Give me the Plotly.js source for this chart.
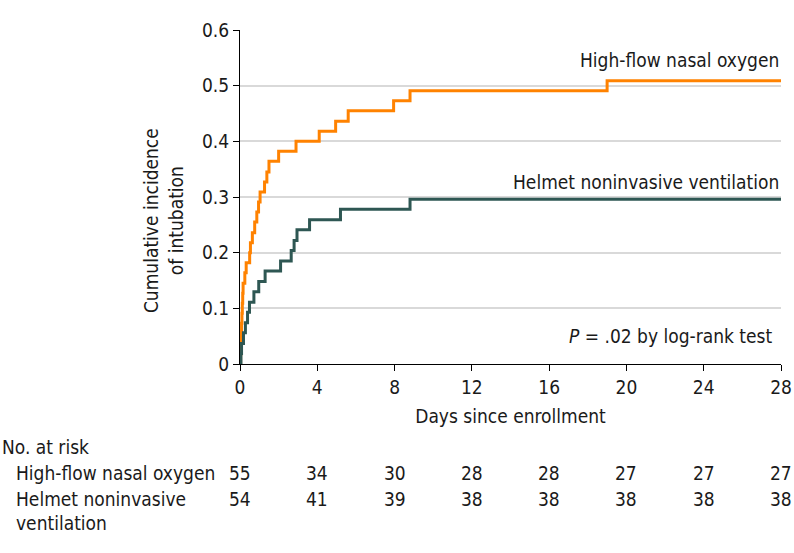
<!DOCTYPE html>
<html>
<head>
<meta charset="utf-8">
<script src="https://cdn.plot.ly/plotly-3.0.1.min.js"></script>
<style>
  html, body { margin: 0; padding: 0; background: #fff; }
  #chart { width: 794px; height: 553px; }
</style>
</head>
<body>
<div id="chart"></div>
<script>
// step curves (day, cumulative incidence)
const hfnoDays = [0, 0.03, 0.05, 0.07, 0.08, 0.10, 0.12, 0.14, 0.16, 0.25, 0.32, 0.50, 0.54,
  0.64, 0.76, 0.87, 0.96, 1.04, 1.27, 1.39, 1.50, 2.0, 2.9, 4.1, 4.95, 5.6, 7.95, 8.8, 19.0, 28];
const hfnoInc = [0, 0.018, 0.036, 0.055, 0.073, 0.091, 0.109, 0.127, 0.145, 0.164, 0.182, 0.200, 0.218,
  0.236, 0.255, 0.273, 0.291, 0.309, 0.327, 0.345, 0.364, 0.382, 0.400, 0.418, 0.436, 0.455, 0.473, 0.491, 0.509, 0.509];

const helmetDays = [0, 0.05, 0.08, 0.18, 0.28, 0.39, 0.49, 0.72, 0.97, 1.3, 2.1, 2.65, 2.8, 2.95, 3.6, 5.2, 8.8, 28];
const helmetInc = [0, 0.019, 0.037, 0.056, 0.074, 0.093, 0.111, 0.130, 0.148, 0.167, 0.185, 0.204, 0.222,
  0.241, 0.259, 0.278, 0.296, 0.296];

// number at risk table
const riskDays = [0, 4, 8, 12, 16, 20, 24, 28];
const hfnoRisk = [55, 34, 30, 28, 28, 27, 27, 27];
const helmetRisk = [54, 41, 39, 38, 38, 38, 38, 38];

const FONT = '"DejaVu Sans Condensed", "Liberation Sans Narrow", sans-serif';
const FS = 19;
const ORANGE = '#ff8200';
const TEAL = '#2e5753';

const traces = [
  {
    x: hfnoDays, y: hfnoInc,
    type: 'scatter', mode: 'lines',
    line: { shape: 'hv', color: ORANGE, width: 3 },
    name: 'High-flow nasal oxygen',
    cliponaxis: false
  },
  {
    x: helmetDays, y: helmetInc,
    type: 'scatter', mode: 'lines',
    line: { shape: 'hv', color: TEAL, width: 3 },
    name: 'Helmet noninvasive ventilation',
    cliponaxis: false
  }
];

const annotations = [
  { text: 'High-flow nasal oxygen', xref: 'paper', yref: 'paper', x: 1.0, y: 0.91,
    xanchor: 'right', yanchor: 'middle', showarrow: false },
  { text: 'Helmet noninvasive ventilation', xref: 'paper', yref: 'paper', x: 1.0, y: 0.545,
    xanchor: 'right', yanchor: 'middle', showarrow: false },
  { text: '<i>P</i> = .02 by log-rank test', xref: 'paper', yref: 'paper', x: 0.988, y: 0.085,
    xanchor: 'right', yanchor: 'middle', showarrow: false },
  { text: 'Cumulative incidence<br>of intubation', xref: 'paper', yref: 'paper', x: -0.141, y: 0.43,
    xanchor: 'center', yanchor: 'middle', textangle: -90, showarrow: false },
  { text: 'No. at risk', xref: 'paper', yref: 'paper', x: -0.443, y: -0.248,
    xanchor: 'left', yanchor: 'middle', showarrow: false },
  { text: 'High-flow nasal oxygen', xref: 'paper', yref: 'paper', x: -0.418, y: -0.325,
    xanchor: 'left', yanchor: 'middle', showarrow: false },
  { text: 'Helmet noninvasive', xref: 'paper', yref: 'paper', x: -0.418, y: -0.404,
    xanchor: 'left', yanchor: 'middle', showarrow: false },
  { text: 'ventilation', xref: 'paper', yref: 'paper', x: -0.418, y: -0.476,
    xanchor: 'left', yanchor: 'middle', showarrow: false }
];

riskDays.forEach((d, i) => {
  annotations.push({ text: String(hfnoRisk[i]), xref: 'x', yref: 'paper', x: d, y: -0.325,
    xanchor: 'center', yanchor: 'middle', showarrow: false });
  annotations.push({ text: String(helmetRisk[i]), xref: 'x', yref: 'paper', x: d, y: -0.404,
    xanchor: 'center', yanchor: 'middle', showarrow: false });
});

const layout = {
  width: 794,
  height: 553,
  margin: { l: 240, r: 13, t: 30, b: 189 },
  paper_bgcolor: '#fff',
  plot_bgcolor: '#fff',
  showlegend: false,
  font: { family: FONT, size: FS, color: '#1a1a1a' },
  xaxis: {
    range: [0, 28],
    tickvals: riskDays,
    ticks: 'outside', ticklen: 6, tickcolor: '#000', tickwidth: 1,
    showline: true, linecolor: '#000', linewidth: 1,
    showgrid: false, zeroline: false,
    tickfont: { size: FS },
    title: { text: 'Days since enrollment', font: { size: FS }, standoff: 12 },
    automargin: false
  },
  yaxis: {
    range: [0, 0.6],
    tickvals: [0, 0.1, 0.2, 0.3, 0.4, 0.5, 0.6],
    ticktext: ['0', '0.1', '0.2', '0.3', '0.4', '0.5', '0.6'],
    ticks: 'outside', ticklen: 6, tickcolor: '#000', tickwidth: 1,
    showline: true, linecolor: '#000', linewidth: 1,
    showgrid: true, gridcolor: '#d9d9d9', gridwidth: 2,
    zeroline: false,
    tickfont: { size: FS },
    automargin: false
  },
  annotations: annotations
};

Plotly.newPlot('chart', traces, layout, { displayModeBar: false, staticPlot: true });
</script>
</body>
</html>
